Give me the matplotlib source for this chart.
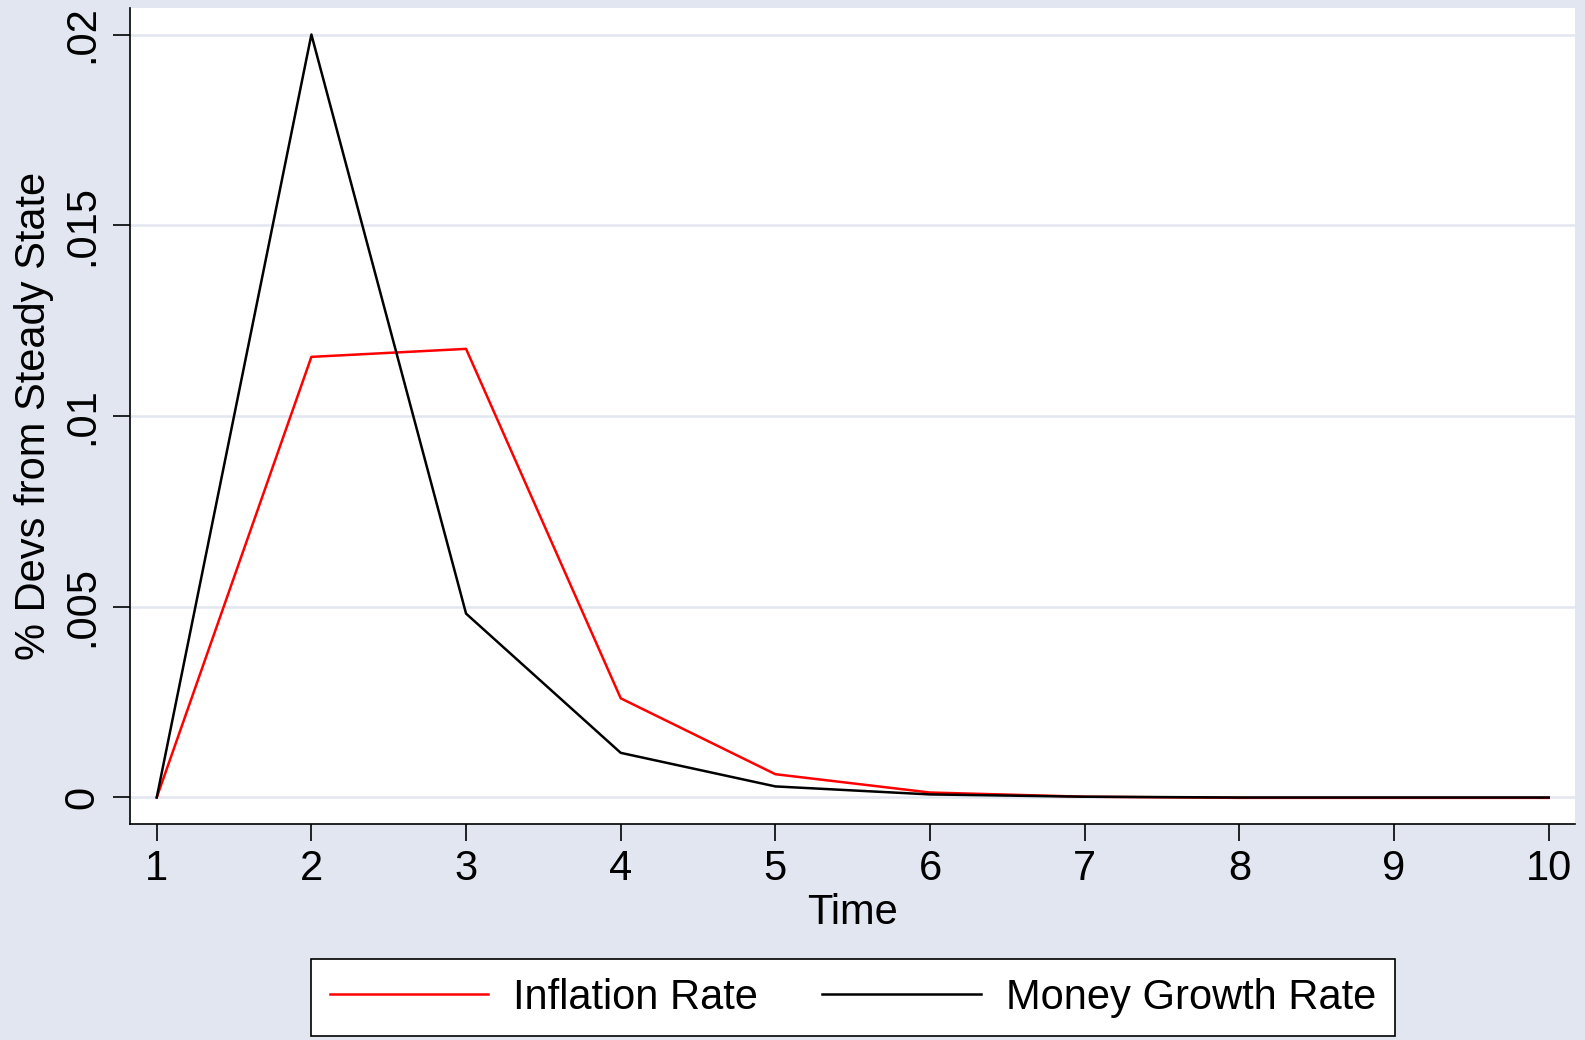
import numpy as np
import matplotlib.pyplot as plt

plt.rcParams['font.family'] = ['Liberation Sans', 'DejaVu Sans']

# impulse responses
time = [1, 2, 3, 4, 5, 6, 7, 8, 9, 10]
inflation = [0.0, 0.01155, 0.01176, 0.00260, 0.00061, 0.00013, 0.00002, -0.00001, -0.00001, -0.00001]
money_growth = [0.0, 0.0200, 0.00482, 0.00117, 0.00029, 0.00008, 0.00002, 0.0, 0.0, 0.0]

y_ticks = [0, 0.005, 0.01, 0.015, 0.02]
y_tick_labels = ['0', '.005', '.01', '.015', '.02']

bg = '#e2e6f0'
fs = 30

fig = plt.figure(figsize=(15.85, 10.4), dpi=100, facecolor=bg)
ax = fig.add_axes([0.0820, 0.2077, 0.9117, 0.7846])
ax.set_facecolor('white')

ax.plot(time, inflation, color='red', lw=1.8, label='Inflation Rate')
ax.plot(time, money_growth, color='black', lw=1.8, label='Money Growth Rate')

ax.set_xlim(0.827, 10.17)
ax.set_ylim(-0.000695, 0.020695)
ax.set_xticks(time)
ax.set_yticks(y_ticks)
ax.set_yticklabels(y_tick_labels, rotation=90, va='center')
ax.grid(axis='y', color=bg, lw=1.8)
ax.set_axisbelow(True)

for s in ['top', 'right']:
    ax.spines[s].set_visible(False)
for s in ['left', 'bottom']:
    ax.spines[s].set_linewidth(1.2)

ax.tick_params(axis='both', labelsize=fs, length=12, width=1.2)
ax.tick_params(axis='y', pad=8)
ax.tick_params(axis='x', pad=6)

ax.set_xlabel('Time', fontsize=fs, labelpad=3)
ax.set_ylabel('% Devs from Steady State', fontsize=fs, labelpad=6)

leg = fig.legend(loc='upper center', bbox_to_anchor=(0.538, 0.0779), borderaxespad=0,
                 ncol=2, fontsize=fs, frameon=True, fancybox=False,
                 handlelength=3.8, handletextpad=0.6, columnspacing=1.55,
                 borderpad=0.45, framealpha=1)
leg.get_frame().set_edgecolor('black')
leg.get_frame().set_linewidth(1.2)

fig.savefig('out.png', dpi=100, facecolor=bg)
